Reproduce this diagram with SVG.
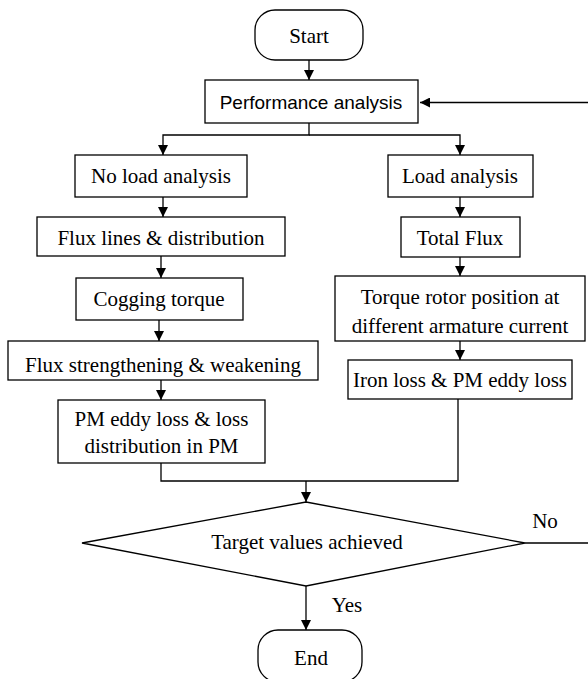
<svg xmlns="http://www.w3.org/2000/svg" width="588" height="679" viewBox="0 0 588 679">
<defs>
<marker id="ah" markerWidth="10" markerHeight="10" refX="10" refY="5" orient="auto" markerUnits="userSpaceOnUse">
<path d="M0,0 L10,5 L0,10 Z" fill="#000"/>
</marker>
<style>
.box{fill:#fff;stroke:#000;stroke-width:1.3}
.t{font-family:"Liberation Serif","Times New Roman",serif;font-size:21px;fill:#000;text-anchor:middle}
.s{font-family:"Liberation Sans",Arial,sans-serif;font-size:19px;fill:#000;text-anchor:middle}
.c{fill:none;stroke:#000;stroke-width:1.3}
.a{marker-end:url(#ah)}
</style>
</defs>
<rect width="588" height="679" fill="#fff"/>
<g id="connectors">
<path class="c a" d="M309,60 V80"/>
<path class="c a" d="M309,123 V135 H163 V155"/>
<path class="c a" d="M309,135 H460 V155"/>
<path class="c a" d="M163,197 V217"/>
<path class="c a" d="M161,256 V278"/>
<path class="c a" d="M159,320 V341"/>
<path class="c a" d="M161,380 V400"/>
<path class="c" d="M161,463 V481 H458 V399"/>
<path class="c a" d="M306,481 V502"/>
<path class="c a" d="M460,197 V217"/>
<path class="c a" d="M460,257 V276"/>
<path class="c a" d="M460,341 V360"/>
<path class="c a" d="M306,586 V630"/>
<path class="c a" d="M525,543 H590 V102.5 H420"/>
</g>
<g id="start"><rect class="box" x="255" y="10" width="108" height="50" rx="20" ry="20"/><text class="t" x="309" y="43">Start</text></g>
<g id="performance"><rect class="box" x="205" y="80" width="213" height="43"/><text class="s" x="311" y="109">Performance analysis</text></g>
<g id="noload"><rect class="box" x="75" y="155" width="172" height="42"/><text class="t" x="161" y="183">No load analysis</text></g>
<g id="fluxlines"><rect class="box" x="37" y="217" width="248" height="39"/><text class="t" x="161" y="245">Flux lines &amp; distribution</text></g>
<g id="cogging"><rect class="box" x="76" y="278" width="167" height="42"/><text class="t" x="159" y="306">Cogging torque</text></g>
<g id="fluxstrength"><rect class="box" x="8" y="341" width="310" height="39"/><text class="t" x="163" y="372">Flux strengthening &amp; weakening</text></g>
<g id="pmeddy"><rect class="box" x="58" y="400" width="207" height="63"/><text class="t" x="161.5" y="426">PM eddy loss &amp; loss</text><text class="t" x="161.5" y="453">distribution in PM</text></g>
<g id="load"><rect class="box" x="388" y="155" width="145" height="42"/><text class="t" x="460" y="183">Load analysis</text></g>
<g id="totalflux"><rect class="box" x="401" y="217" width="119" height="40"/><text class="t" x="460" y="245">Total Flux</text></g>
<g id="torque"><rect class="box" x="335" y="276" width="250" height="65"/><text class="t" x="460" y="304">Torque rotor position at</text><text class="t" x="460" y="333">different armature current</text></g>
<g id="ironloss"><rect class="box" x="348" y="360" width="224" height="39"/><text class="t" x="460" y="387">Iron loss &amp; PM eddy loss</text></g>
<g id="decision"><polygon class="box" points="306,502 525,543 306,586 82,543"/><text class="t" x="307" y="549">Target values achieved</text></g>
<g id="labels"><text class="t" x="545" y="528">No</text><text class="t" x="347" y="612">Yes</text></g>
<g id="end"><rect class="box" x="258" y="630" width="104" height="52" rx="20" ry="20"/><text class="t" x="311" y="665">End</text></g>
</svg>
